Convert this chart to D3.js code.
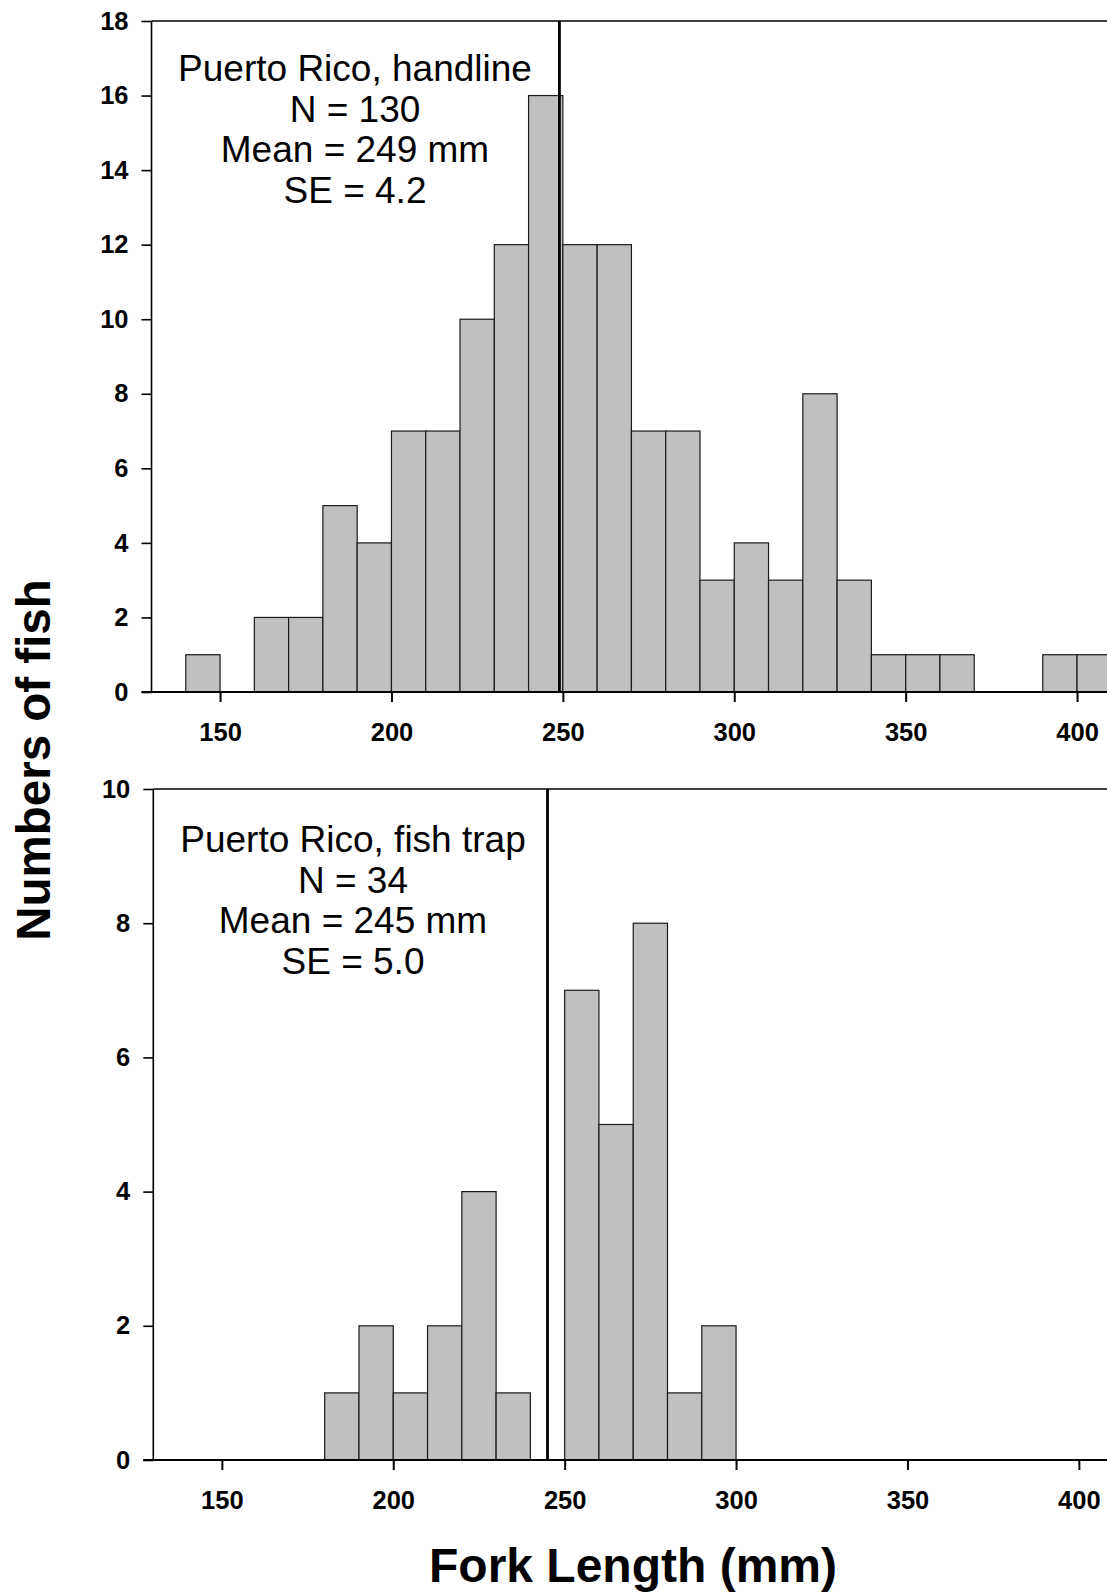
<!DOCTYPE html>
<html>
<head>
<meta charset="utf-8">
<script src="https://cdn.jsdelivr.net/npm/d3@7/dist/d3.min.js"></script>
<style>
  html, body { margin: 0; padding: 0; background: #fff; }
  svg { display: block; }
  text { font-family: "Liberation Sans", Arial, Helvetica, sans-serif; fill: #000; }
</style>
</head>
<body>
<svg id="chart" width="1107" height="1594"></svg>
<script>
// Fork-length bins (10 mm wide, lower edge in mm)
const binStarts = [140,150,160,170,180,190,200,210,220,230,240,250,260,270,280,290,300,310,320,330,340,350,360,370,380,390,400];
const handlineCounts = [1,0,2,2,5,4,7,7,10,12,16,12,12,7,7,3,4,3,8,3,1,1,1,0,0,1,1];
const trapCounts     = [0,0,0,0,1,2,1,2,4,1,0,7,5,8,1,2,0,0,0,0,0,0,0,0,0,0,0];
const binWidth = 10;

const xTicks = [150, 200, 250, 300, 350, 400];
const handlineYTicks = [0,2,4,6,8,10,12,14,16,18];
const trapYTicks = [0,2,4,6,8,10];

const panels = [
  { counts: handlineCounts, yMax: 18, yTicks: handlineYTicks, mean: 249,
    lines: ["Puerto Rico, handline", "N = 130", "Mean = 249 mm", "SE = 4.2"],
    left: 151.5, top: 21, bottom: 692, labelX: 355, labelY: 81 },
  { counts: trapCounts, yMax: 10, yTicks: trapYTicks, mean: 245,
    lines: ["Puerto Rico, fish trap", "N = 34", "Mean = 245 mm", "SE = 5.0"],
    left: 153.3, top: 789, bottom: 1460, labelX: 353, labelY: 852 }
];

const svg = d3.select("#chart");
const xDomain = [130, 410];
const pxPerMm = 3.428;

panels.forEach(p => {
  const right = p.left + (xDomain[1] - xDomain[0]) * pxPerMm;
  const x = d3.scaleLinear().domain(xDomain).range([p.left, right]);
  const y = d3.scaleLinear().domain([0, p.yMax]).range([p.bottom, p.top]);
  const g = svg.append("g");

  // histogram bars
  const bins = binStarts.map((s, i) => ({ start: s, n: p.counts[i] })).filter(d => d.n > 0);
  g.selectAll("rect.bar").data(bins).enter().append("rect")
    .attr("class", "bar")
    .attr("x", d => x(d.start))
    .attr("y", d => y(d.n))
    .attr("width", d => x(d.start + binWidth) - x(d.start))
    .attr("height", d => y(0) - y(d.n))
    .attr("fill", "#c0c0c0")
    .attr("stroke", "#1a1a1a")
    .attr("stroke-width", 1.2);

  // top frame line
  g.append("line")
    .attr("x1", p.left).attr("x2", 1107)
    .attr("y1", p.top).attr("y2", p.top)
    .attr("stroke", "#000").attr("stroke-width", 1.6);

  // mean line
  g.append("line")
    .attr("x1", x(p.mean)).attr("x2", x(p.mean))
    .attr("y1", p.top).attr("y2", p.bottom)
    .attr("stroke", "#000").attr("stroke-width", 2.8);

  // x axis
  const xAxis = d3.axisBottom(x).tickValues(xTicks).tickSize(10).tickPadding(21).tickFormat(d3.format("d"));
  const gx = g.append("g").attr("transform", `translate(0,${p.bottom})`).call(xAxis);
  gx.select(".domain").remove();
  gx.selectAll(".tick line").attr("stroke", "#000").attr("stroke-width", 2);
  gx.selectAll(".tick text").attr("font-size", 25.5).attr("font-weight", "bold")
    .style("font-family", '"Liberation Sans", Arial, sans-serif');
  g.append("line")
    .attr("x1", p.left - 10).attr("x2", 1107)
    .attr("y1", p.bottom).attr("y2", p.bottom)
    .attr("stroke", "#000").attr("stroke-width", 2.2);

  // y axis
  const yAxis = d3.axisLeft(y).tickValues(p.yTicks).tickSize(10).tickPadding(13).tickFormat(d3.format("d"));
  const gy = g.append("g").attr("transform", `translate(${p.left},0)`).call(yAxis);
  gy.select(".domain").remove();
  gy.selectAll(".tick line").attr("stroke", "#000").attr("stroke-width", 1.6);
  gy.selectAll(".tick text").attr("font-size", 25.5).attr("font-weight", "bold")
    .style("font-family", '"Liberation Sans", Arial, sans-serif');
  g.append("line")
    .attr("x1", p.left).attr("x2", p.left)
    .attr("y1", p.top).attr("y2", p.bottom)
    .attr("stroke", "#000").attr("stroke-width", 1.6);

  // annotation block
  g.append("text")
    .attr("x", p.labelX).attr("y", p.labelY)
    .attr("text-anchor", "middle")
    .attr("font-size", 37)
    .selectAll("tspan").data(p.lines).enter().append("tspan")
    .attr("x", p.labelX)
    .attr("dy", (d, i) => i === 0 ? 0 : 40.7)
    .text(d => d);
});

// axis titles
svg.append("text")
  .attr("transform", "translate(50,760) rotate(-90)")
  .attr("text-anchor", "middle")
  .attr("font-size", 47.5).attr("font-weight", "bold")
  .text("Numbers of fish");

svg.append("text")
  .attr("x", 633).attr("y", 1582)
  .attr("text-anchor", "middle")
  .attr("font-size", 48).attr("font-weight", "bold")
  .text("Fork Length (mm)");
</script>
</body>
</html>
